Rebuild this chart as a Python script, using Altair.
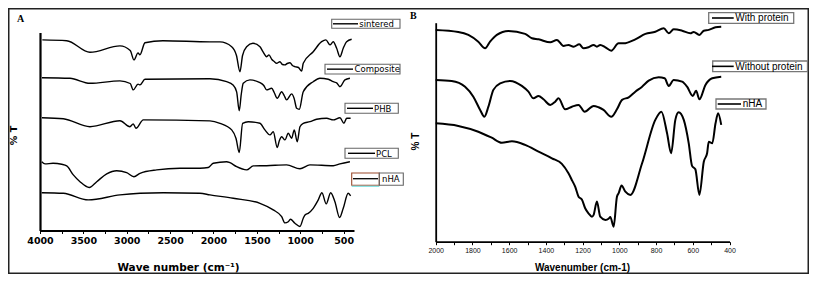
import altair as alt
import pandas as pd

# ---------------- DATA ----------------
# Panel A: FTIR spectra, x = wave number (cm-1), y = %T (offset, arbitrary units)
A_series = ["sintered", "Composite", "PHB", "PCL", "nHA"]

A_sintered_wn = [3973, 3692, 3424, 3078, 2960, 2917, 2870, 2848, 2790, 2582, 2041, 1925, 1790, 1735, 1695,
                 1665, 1618, 1545, 1464, 1430, 1387, 1360, 1329, 1300, 1272, 1234, 1205, 1176, 1150, 1118,
                 1090, 1061, 1020, 984, 965, 850, 753, 704, 657, 619, 580, 542, 504, 465, 407]
A_sintered_t = [95.3, 94.9, 89.1, 92.3, 90.0, 85.3, 88.8, 87.9, 93.9, 94.9, 94.3, 94.3, 91.9, 87.5, 79.4,
                87.5, 91.9, 93.6, 91.9, 89.4, 86.9, 87.8, 85.6, 84.5, 83.6, 84.4, 83.0, 82.8, 83.5, 83.9,
                82.5, 81.9, 81.5, 79.7, 83.6, 89.4, 94.4, 95.3, 92.8, 94.4, 91.1, 86.9, 91.1, 94.4, 95.6]

A_composite_wn = [3977, 3654, 3424, 3078, 2960, 2925, 2870, 2847, 2790, 2041, 1848, 1775, 1733, 1703, 1680,
                  1657, 1580, 1464, 1420, 1387, 1329, 1300, 1265, 1214, 1185, 1157, 1099, 1070, 1041, 1011,
                  965, 850, 773, 677, 619, 580, 542, 485, 427]
A_composite_t = [76.4, 76.1, 73.6, 74.8, 73.5, 70.3, 73.2, 72.8, 75.6, 75.9, 74.4, 72.8, 69.3, 59.9, 68.0,
                 73.6, 75.3, 73.9, 72.5, 70.3, 71.1, 69.0, 66.1, 69.4, 67.5, 65.3, 68.3, 66.0, 61.1, 60.6,
                 69.4, 74.4, 76.1, 75.6, 74.4, 73.8, 71.9, 75.3, 76.1]

A_phb_wn = [3977, 3731, 3424, 3078, 2963, 2925, 2894, 2809, 2041, 1925, 1790, 1740, 1703, 1664, 1599,
            1464, 1407, 1349, 1311, 1265, 1240, 1214, 1176, 1138, 1099, 1069, 1034, 1003, 965, 888,
            811, 696, 619, 542, 496, 465, 419]
A_phb_t = [56.4, 55.9, 51.9, 54.9, 51.9, 53.3, 51.1, 55.3, 54.8, 53.6, 50.3, 46.0, 39.0, 53.6, 54.4,
           53.6, 50.3, 47.8, 49.4, 41.5, 45.0, 46.9, 45.3, 48.6, 46.1, 50.3, 44.4, 51.9, 53.6, 54.4,
           55.6, 56.1, 55.3, 56.4, 53.6, 56.1, 56.1]

A_pcl_wn = [3980, 3942, 3850, 3750, 3692, 3616, 3539, 3432, 3346, 3231, 3116, 3001, 2917, 2847, 2655,
            2386, 2156, 2060, 2003, 1848, 1810, 1733, 1618, 1541, 1387, 1157, 1003, 888, 619, 542, 427]
A_pcl_t = [34.4, 33.3, 33.6, 33.1, 32.3, 27.8, 24.4, 21.5, 24.4, 28.3, 29.9, 28.9, 26.9, 28.6, 30.3,
           31.1, 31.1, 31.5, 33.6, 34.4, 33.9, 31.9, 30.3, 32.3, 32.4, 32.8, 30.9, 32.8, 32.4, 33.3, 34.4]

A_nha_wn = [3980, 3731, 3443, 3078, 2847, 2579, 2156, 2041, 1772, 1464, 1311, 1214, 1176, 1138, 1113,
            1061, 1003, 965, 945, 908, 850, 792, 750, 700, 649, 600, 546, 504, 447, 419]
A_nha_t = [18.9, 18.6, 15.3, 17.8, 18.6, 18.9, 18.6, 17.8, 16.1, 13.6, 10.3, 6.9, 3.8, 4.4, 5.6,
           3.6, 2.0, 6.1, 7.8, 8.6, 11.1, 15.3, 18.9, 13.3, 18.9, 14.4, 6.5, 11.1, 18.6, 17.3]

# Panel B: FTIR spectra, x = wavenumber (cm-1), y = %T (offset, arbitrary units)
B_series = ["With protein", "Without protein", "nHA"]

B_with_wn = [2000, 1877, 1822, 1768, 1731, 1704, 1667, 1604, 1513, 1476, 1440, 1376, 1340, 1304, 1277,
             1249, 1218, 1195, 1168, 1140, 1122, 1104, 1076, 1044, 1004, 977, 913, 858, 804, 758,
             731, 704, 658, 613, 595, 564, 540, 513, 476, 445]
B_with_t = [105.9, 104.9, 103.4, 100.0, 96.7, 100.0, 103.4, 105.4, 103.9, 101.7, 101.2, 99.7, 100.9, 97.9, 98.4,
            97.5, 98.7, 96.7, 97.2, 98.4, 97.5, 98.4, 97.2, 95.5, 99.2, 99.2, 101.2, 103.9, 105.0, 106.7,
            104.2, 106.2, 105.5, 104.2, 104.9, 103.4, 105.5, 105.9, 107.2, 107.5]

B_without_wn = [2000, 1913, 1840, 1795, 1758, 1735, 1713, 1686, 1649, 1595, 1531, 1495, 1468, 1440, 1413,
                1376, 1349, 1331, 1295, 1258, 1222, 1189, 1140, 1113, 1086, 1044, 1013, 985, 949, 913,
                876, 840, 786, 753, 731, 704, 658, 631, 600, 582, 564, 531, 494, 445]
B_without_t = [80.9, 80.4, 77.5, 72.5, 65.9, 62.5, 67.5, 75.9, 79.2, 80.4, 77.9, 75.0, 71.7, 72.9, 71.2,
               68.4, 70.0, 71.7, 66.2, 67.5, 68.4, 65.0, 67.9, 67.2, 65.9, 62.5, 66.2, 70.9, 72.2, 75.0,
               77.5, 80.5, 82.2, 81.7, 77.9, 80.9, 80.0, 77.5, 72.9, 75.5, 71.2, 78.4, 81.7, 82.5]

B_nha_wn = [2000, 1877, 1768, 1695, 1640, 1585, 1513, 1440, 1367, 1313, 1277, 1256, 1240, 1222, 1204,
            1186, 1168, 1149, 1140, 1122, 1104, 1076, 1057, 1049, 1031, 1013, 1003, 988, 967, 940,
            876, 804, 771, 740, 718, 695, 677, 649, 622, 604, 586, 564, 540, 522, 513, 494, 476, 462, 445]
B_nha_t = [59.2, 57.9, 55.0, 52.0, 49.5, 50.2, 48.4, 45.0, 41.7, 38.9, 34.2, 30.4, 27.4, 22.5, 21.1,
           16.7, 14.2, 12.5, 13.4, 20.1, 12.5, 10.9, 11.6, 12.4, 7.5, 22.5, 24.4, 28.1, 25.0, 23.4,
           39.2, 60.9, 65.0, 54.2, 44.2, 60.9, 64.7, 60.9, 49.2, 37.9, 36.2, 23.4, 40.0, 44.2, 50.0,
           49.2, 59.2, 64.2, 58.4]

A_ticks = list(range(4000, 499, -250))
B_ticks = list(range(2000, 399, -100))

# ---------------- tables ----------------
def table(names, pairs):
    rows = []
    for name, (wn, t) in zip(names, pairs):
        for w, v in zip(wn, t):
            rows.append({"series": name, "wn": w, "t": v})
    return pd.DataFrame(rows)

dfA = table(A_series, [(A_sintered_wn, A_sintered_t), (A_composite_wn, A_composite_t),
                       (A_phb_wn, A_phb_t), (A_pcl_wn, A_pcl_t), (A_nha_wn, A_nha_t)])
dfB = table(B_series, [(B_with_wn, B_with_t), (B_without_wn, B_without_t), (B_nha_wn, B_nha_t)])

# ---------------- layout (canvas pixels) ----------------
W, H = 801, 266
A_left, A_right, A_bottom, A_top = 32, 346, 222.5, 24.5
B_left, B_right, B_bottom, B_top = 427.7, 721.5, 233.7, 14.7

BOLD_SANS = "DejaVu Sans"
ARIAL = "Liberation Sans"

xA = alt.Scale(domain=[4000, 380], range=[A_left, A_right], nice=False, zero=False)
yA = alt.Scale(domain=[0, 99], range=[A_bottom, A_top], nice=False, zero=False)
xB = alt.Scale(domain=[2000, 400], range=[B_left, B_right], nice=False, zero=False)
yB = alt.Scale(domain=[0, 109.5], range=[B_bottom, B_top], nice=False, zero=False)

axA_x = alt.Axis(orient="bottom", offset=-(H - A_bottom), values=A_ticks, format="d",
                 labelExpr="datum.value % 500 == 0 ? datum.label : ''",
                 labelFont=BOLD_SANS, labelFontWeight="bold", labelFontSize=9.5, labelColor="black",
                 labelPadding=2, labelOverlap=False, labelFlush=False,
                 tickSize=3, tickColor="black", tickWidth=1,
                 domainColor="black", domainWidth=2, grid=False,
                 title="Wave number (cm⁻¹)", titleFont=BOLD_SANS, titleFontWeight="bold",
                 titleFontSize=10.5, titleColor="black", titleX=170, titleY=39.5,
                 titleBaseline="alphabetic", titleAnchor="middle")
axA_y = alt.Axis(orient="left", offset=-A_left, labels=False, ticks=False, grid=False,
                 domainColor="black", domainWidth=2.2,
                 title="% T", titleFont=BOLD_SANS, titleFontWeight="bold", titleFontSize=9.5,
                 titleColor="black", titleX=-27, titleY=127, titleBaseline="middle")
axB_x = alt.Axis(orient="bottom", offset=-(H - B_bottom), values=B_ticks, format="d",
                 labelExpr="datum.value % 200 == 0 ? datum.label : ''",
                 labelFont=ARIAL, labelFontSize=7, labelColor="#111",
                 labelPadding=2, labelOverlap=False, labelFlush=False,
                 tickSize=3, tickColor="black", tickWidth=1,
                 domainColor="black", domainWidth=1.8, grid=False,
                 title="Wavenumber (cm-1)", titleFont=ARIAL, titleFontWeight="bold",
                 titleFontSize=10, titleColor="black", titleX=574, titleY=28.5,
                 titleBaseline="alphabetic", titleAnchor="middle")
axB_y = alt.Axis(orient="left", offset=-B_left, labels=False, ticks=False, grid=False,
                 domainColor="black", domainWidth=1.8,
                 title="% T", titleFont=ARIAL, titleFontWeight="bold", titleFontSize=10,
                 titleColor="black", titleX=-20.7, titleY=133, titleBaseline="middle")

linesA = alt.Chart(dfA).mark_line(color="black", strokeWidth=1.4, clip=False,
                                  interpolate="monotone").encode(
    x=alt.X("wn:Q", scale=xA, axis=axA_x),
    y=alt.Y("t:Q", scale=yA, axis=axA_y),
    detail="series:N",
    order=alt.Order("wn:Q", sort="descending"),
)
linesB = alt.Chart(dfB).mark_line(color="black", strokeWidth=2, clip=False,
                                  interpolate="monotone").encode(
    x=alt.X("wn:Q", scale=xB, axis=axB_x),
    y=alt.Y("t:Q", scale=yB, axis=axB_y),
    detail="series:N",
    order=alt.Order("wn:Q", sort="descending"),
)

one = pd.DataFrame({"_": [0]})

def box(x1, y1, x2, y2, stroke, sw=1.0):
    return alt.Chart(one).mark_rect(fillOpacity=0, stroke=stroke, strokeWidth=sw).encode(
        x=alt.value(x1), x2=alt.value(x2), y=alt.value(y1), y2=alt.value(y2))

def hline(x1, x2, y, color="black", sw=1.4):
    return alt.Chart(one).mark_rule(color=color, strokeWidth=sw).encode(
        x=alt.value(x1), x2=alt.value(x2), y=alt.value(y))

def label(x, y, text, font, size, weight="normal", align="left", baseline="middle"):
    return alt.Chart(one).mark_text(font=font, fontSize=size, fontWeight=weight, align=align,
                                    baseline=baseline, color="black").encode(
        x=alt.value(x), y=alt.value(y), text=alt.value(text))

deco = [box(0.75, 0.75, 800.25, 265.25, "#222", 1.5)]
deco.append(label(12.7, 10.5, "A", "Liberation Serif", 10, "bold", "center"))
deco.append(label(405.3, 7.5, "B", "Liberation Serif", 10, "bold", "center"))

# legend boxes, panel A: (box x1, y1, x2, y2, line x1, x2, text x)
A_leg = [(323.7, 11.3, 392.0, 20.3, 325, 350, 351.3),
         (317.0, 56.3, 392.0, 66.0, 319, 345, 346.5),
         (337.0, 95.3, 390.3, 105.3, 339, 365, 366.0),
         (337.0, 140.3, 390.3, 150.3, 340, 367, 368.0)]
for name, (bx1, by1, bx2, by2, lx1, lx2, tx) in zip(A_series[:4], A_leg):
    ym = (by1 + by2) / 2
    deco += [box(bx1, by1, bx2, by2, "#666", 1.1), hline(lx1, lx2, ym),
             label(tx, ym + 0.3, name, BOLD_SANS, 8.5)]
# nHA legend in A (brown frame around the sample line, cyan edge)
deco += [box(343.7, 165.0, 371.3, 177.3, "#9b4a2c", 1.1),
         hline(343.7, 371.3, 178.3, "#7fe0e0", 1.2),
         hline(345, 370, 170.7, "black", 1.3),
         box(371.3, 165.0, 395.3, 177.3, "#666", 1.1),
         label(374.0, 171.3, A_series[4], BOLD_SANS, 8.5)]

# legend boxes, panel B
B_leg = [(700.7, 4.7, 785.7, 15.3, 704, 725.7, 727.3),
         (704.7, 53.0, 799.5, 63.7, 704, 725.7, 727.3),
         (708.0, 91.0, 758.0, 101.0, 709.7, 733.0, 734.7)]
for name, (bx1, by1, bx2, by2, lx1, lx2, tx) in zip(B_series, B_leg):
    ym = (by1 + by2) / 2
    deco += [box(bx1, by1, bx2, by2, "#777", 1.3), hline(lx1, lx2, ym, "black", 1.6),
             label(tx, ym + 0.3, name, ARIAL, 10)]

chart = alt.layer(linesA, linesB, *deco).resolve_scale(
    x="independent", y="independent"
).resolve_axis(
    x="independent", y="independent"
).properties(
    width=W, height=H, padding=0, autosize=alt.AutoSizeParams(type="none")
).configure_view(stroke=None)

chart.save("out.html", embed_options={"renderer": "svg", "actions": False})
